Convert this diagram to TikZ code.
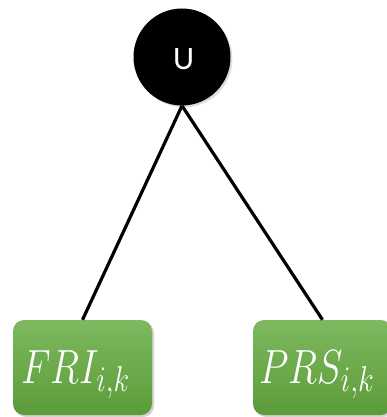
\RequirePackage{fix-cm}
\documentclass[tikz,border=0pt]{standalone}
\usepackage{fontspec}
\newfontfamily\ufont{Carlito}
\usetikzlibrary{shadows}
\definecolor{gtop}{HTML}{7DB95F}
\definecolor{gbot}{HTML}{5C9B39}
\newcommand{\leaflabel}[2]{\scalebox{0.8}[1]{\fontsize{48}{50}\selectfont$#1_{\mbox{\fontsize{36}{38}\selectfont$#2$}}$}}
\tikzset{
  leaf/.style={draw=none, rounded corners=11pt, top color=gtop, bottom color=gbot,
    minimum width=139pt, minimum height=95pt, inner sep=0pt,
    drop shadow={opacity=0.35, shadow xshift=2pt, shadow yshift=-2pt}},
  root/.style={circle, fill=black, minimum size=97pt, inner sep=0pt,
    drop shadow={opacity=0.25, shadow xshift=2pt, shadow yshift=-2pt}},
  edge/.style={line width=3.2pt, black},
  lbl/.style={text=white, inner sep=0pt, anchor=base west}
}
\begin{document}
\begin{tikzpicture}[x=1pt,y=1pt]
\useasboundingbox (0,0) rectangle (387,-417);
\node[root] (u) at (182,-57) {};
\node[text=white, inner sep=0pt, anchor=base] (ut) at (183.5,-70) {\ufont\fontsize{32}{34}\selectfont\resizebox{!}{21pt}{U}};
\node[leaf] (a) at (82.5,-367.5) {};
\node[leaf] (b) at (322.5,-367.5) {};
\draw[edge] (u.south) -- (a.north);
\draw[edge] (u.south) -- (b.north);
\node[lbl] (at) at (21,-383) {\leaflabel{FRI}{i{,}k}};
\node[lbl] (bt) at (259,-383) {\leaflabel{PRS}{i{,}k}};
\end{tikzpicture}
\end{document}
